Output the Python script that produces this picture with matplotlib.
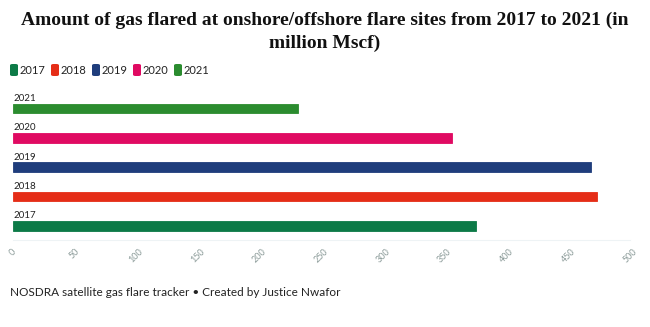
import matplotlib.pyplot as plt
from matplotlib.patches import FancyBboxPatch

years = ['2017', '2018', '2019', '2020', '2021']
flared = [375, 473, 468, 356, 231]
colors = ['#0c7a47', '#e52d17', '#1f3d7c', '#e00a62', '#2b8c2f']
xticks = [0, 50, 100, 150, 200, 250, 300, 350, 400, 450, 500]

fig = plt.figure(figsize=(6.5, 3.27), dpi=100)
ax = fig.add_axes([13 / 650, 1 - 240 / 327, 617 / 650, 146 / 327])

ypos = list(range(len(years)))
ax.barh(ypos, flared, height=0.33, color=colors, edgecolor=colors, linewidth=0.6)
for y, yr in zip(ypos, years):
    ax.text(0, y + 0.35, yr, fontsize=7, family='Lato', color='#222222', va='center', ha='left')

ax.set_xlim(0, 500)
ax.set_ylim(-0.48, 4.5)
ax.set_xticks(xticks)
ax.set_xticklabels([str(t) for t in xticks], rotation=45, fontsize=6.5, color='#8a9a98',
                   family='Lato', ha='center', va='top')
ax.tick_params(axis='x', length=0, pad=5)
ax.set_yticks([])
for s in ['top', 'right', 'left']:
    ax.spines[s].set_visible(False)
ax.spines['bottom'].set_color('#eef3f5')
ax.spines['bottom'].set_linewidth(0.8)

title_kw = dict(ha='center', va='center', fontsize=14, fontweight='bold',
                family='Liberation Serif', color='#111111')
fig.text(0.5, 1 - 20 / 327,
         'Amount of gas flared at onshore/offshore flare sites from 2017 to 2021 (in', **title_kw)
fig.text(0.5, 1 - 43 / 327, 'million Mscf)', **title_kw)

# legend with rounded swatches
x = 10
for yr, c in zip(years, colors):
    sw = FancyBboxPatch((x / 650, 1 - 76 / 327), 8 / 650, 12 / 327,
                        boxstyle='round,pad=0,rounding_size=0.004', transform=fig.transFigure,
                        facecolor=c, edgecolor='none')
    fig.patches.append(sw)
    fig.text((x + 10) / 650, 1 - 70 / 327, yr, fontsize=8, family='Lato', color='#222222',
             va='center', ha='left')
    x += 41

fig.text(10 / 650, 1 - 293 / 327, 'NOSDRA satellite gas flare tracker \u2022 Created by Justice Nwafor',
         fontsize=8.5, family='Lato', color='#222222', va='center', ha='left')

fig.savefig('out.png', dpi=100, facecolor='white')
